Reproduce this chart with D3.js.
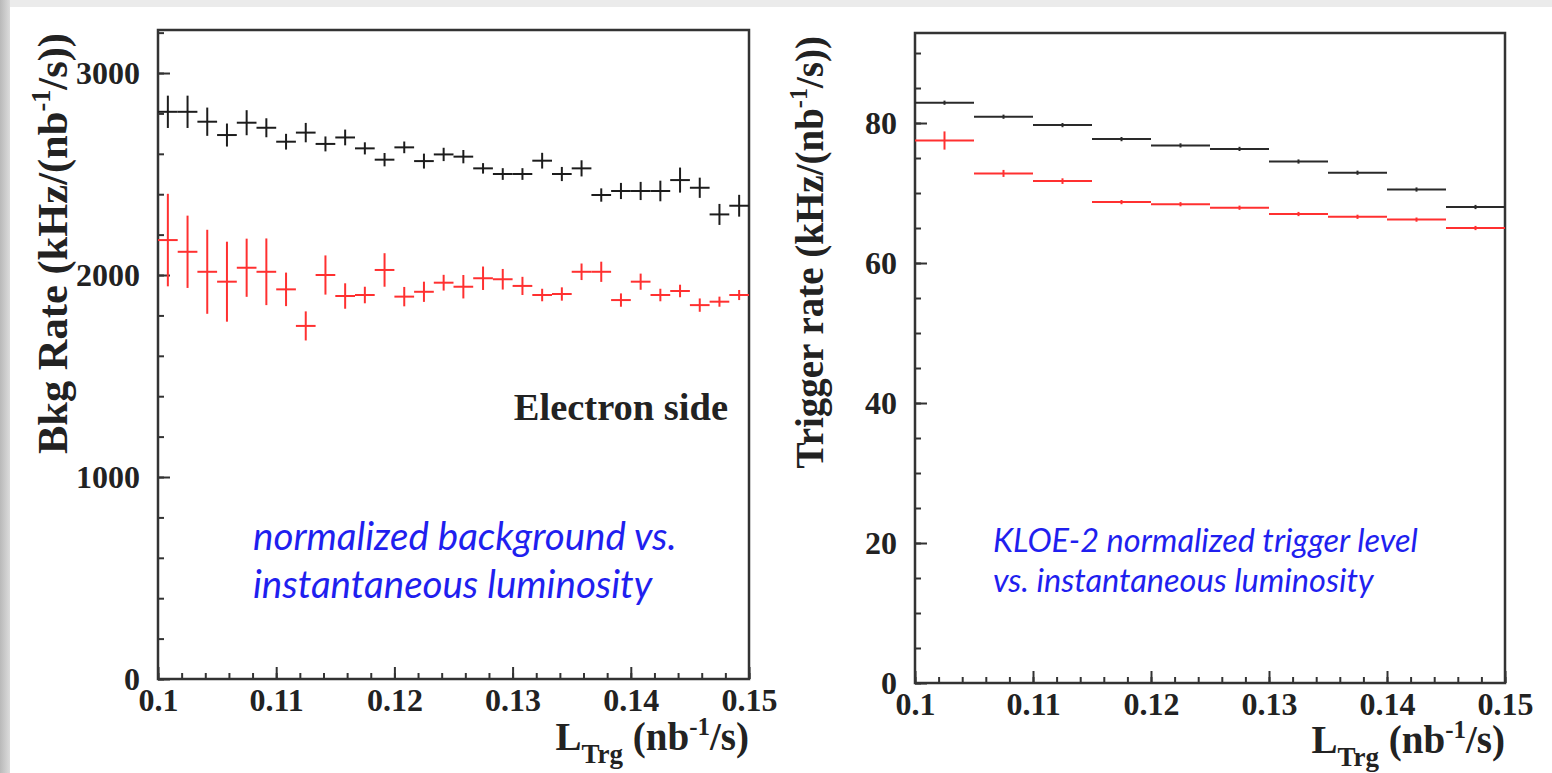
<!DOCTYPE html>
<html>
<head>
<meta charset="utf-8">
<script src="https://cdn.jsdelivr.net/npm/d3@7"></script>
<style>
  body { margin: 0; background: #fff; }
  svg { display: block; }
  .tick text { font-family: "Liberation Serif", serif; font-weight: bold; font-size: 32px; fill: #222; }
  .tick line { stroke: #333; stroke-width: 2; }
  .domain { display: none; }
  .title { font-family: "Liberation Serif", serif; font-weight: bold; fill: #222; }
  .note { font-family: Lato, "Open Sans", sans-serif; font-style: italic; fill: #1f1fef; }
</style>
</head>
<body>
<div id="chart"></div>
<script>
// left panel: background rate, 30 bins between 0.1 and 0.15
const bkgXmin = 0.1, bkgXmax = 0.15, bkgBins = 30;
const bkgBlack = [2808, 2808, 2759, 2693, 2754, 2729, 2660, 2705, 2649, 2681,
                  2627, 2571, 2632, 2564, 2597, 2586, 2528, 2500, 2500, 2566,
                  2500, 2528, 2396, 2416, 2416, 2416, 2470, 2432, 2300, 2343];
const bkgBlackErr = [80, 80, 70, 57, 62, 47, 39, 48, 37, 39,
                     30, 33, 29, 37, 33, 33, 26, 29, 29, 39,
                     35, 40, 33, 40, 45, 51, 62, 50, 52, 54];
const bkgRed = [2173, 2115, 2016, 1967, 2036, 2016, 1929, 1748, 2000, 1896,
                1901, 2025, 1893, 1917, 1962, 1942, 1984, 1979, 1946, 1901,
                1906, 2016, 2016, 1876, 1967, 1901, 1921, 1851, 1868, 1901];
const bkgRedErr = [229, 179, 208, 198, 144, 165, 83, 72, 97, 63,
                   41, 83, 48, 50, 39, 58, 58, 51, 45, 31,
                   33, 41, 50, 33, 40, 31, 31, 33, 25, 25];
const bkgYTicks = [0, 1000, 2000, 3000];

// right panel: trigger rate, 10 bins
const trgLow = [0.100, 0.105, 0.110, 0.115, 0.120, 0.125, 0.130, 0.135, 0.140, 0.145];
const trgBlack = [82.9, 80.9, 79.7, 77.7, 76.8, 76.3, 74.5, 72.9, 70.5, 68.0];
const trgBlackErr = [0.3, 0.3, 0.3, 0.3, 0.3, 0.3, 0.3, 0.3, 0.3, 0.3];
const trgRed = [77.5, 72.8, 71.7, 68.7, 68.4, 67.9, 67.0, 66.6, 66.2, 65.0];
const trgRedErr = [1.3, 0.5, 0.4, 0.3, 0.3, 0.3, 0.3, 0.3, 0.3, 0.3];
const trgYTicks = [0, 20, 40, 60, 80];

const xTicks = [0.1, 0.11, 0.12, 0.13, 0.14, 0.15];

const W = 1552, H = 773;
const svg = d3.select("#chart").append("svg").attr("width", W).attr("height", H);

// slide backdrop
const grad = svg.append("defs").append("linearGradient").attr("id", "edge");
grad.append("stop").attr("offset", "0%").attr("stop-color", "#b9b9b9");
grad.append("stop").attr("offset", "100%").attr("stop-color", "#dcdcdc");
svg.append("rect").attr("width", W).attr("height", 7).attr("fill", "#ebebeb");
svg.append("rect").attr("width", 10).attr("height", H).attr("fill", "url(#edge)");

function panel(opt) {
  const x = d3.scaleLinear().domain([0.1, 0.15]).range([opt.left, opt.right]);
  const y = d3.scaleLinear().domain([0, opt.ymax]).range([opt.bottom, opt.top]);
  const g = svg.append("g");

  // minor ticks
  g.append("g").attr("transform", `translate(${opt.left},0)`)
    .call(d3.axisLeft(y).tickValues(d3.range(0, opt.ymax, opt.yminor)).tickSize(-6).tickFormat(""));
  g.append("g").attr("transform", `translate(0,${opt.bottom})`)
    .call(d3.axisBottom(x).tickValues(d3.range(0, 26).map(i => 0.1 + i * 0.002)).tickSize(-6).tickFormat(""));
  // major ticks
  g.append("g").attr("transform", `translate(${opt.left},0)`)
    .call(d3.axisLeft(y).tickValues(opt.yticks).tickSize(-12).tickPadding(18).tickFormat(d3.format("d")));
  g.append("g").attr("transform", `translate(0,${opt.bottom})`)
    .call(d3.axisBottom(x).tickValues(xTicks).tickSize(-12).tickPadding(9).tickFormat(d => String(+d.toFixed(2))));

  g.append("rect")
    .attr("x", opt.left).attr("y", opt.top)
    .attr("width", opt.right - opt.left).attr("height", opt.bottom - opt.top)
    .attr("fill", "none").attr("stroke", "#333").attr("stroke-width", 2.5);

  opt.series.forEach(s => {
    const sg = g.append("g").attr("stroke", s.color).attr("stroke-width", s.width);
    s.values.forEach((v, i) => {
      const x0 = x(s.lo[i]), x1 = x(s.hi[i]), xc = (x0 + x1) / 2;
      sg.append("line").attr("x1", x0).attr("x2", x1).attr("y1", y(v)).attr("y2", y(v));
      sg.append("line").attr("x1", xc).attr("x2", xc)
        .attr("y1", y(v - s.err[i])).attr("y2", y(v + s.err[i]));
    });
  });

  // y title, rotated, aligned to top of frame
  const yt = svg.append("text").attr("class", "title")
    .attr("transform", `translate(${opt.ytitleX},${opt.top + 3}) rotate(-90)`)
    .attr("text-anchor", "end").style("font-size", opt.ytitleSize + "px");
  yt.append("tspan").text(opt.ytitle + " (kHz/(nb");
  yt.append("tspan").attr("dy", -opt.ytitleSize * 0.4).style("font-size", opt.ytitleSize * 0.62 + "px").text("-1");
  yt.append("tspan").attr("dy", opt.ytitleSize * 0.4).text("/s))");

  // x title, aligned to right end
  const xt = svg.append("text").attr("class", "title")
    .attr("x", opt.right).attr("y", opt.xtitleY)
    .attr("text-anchor", "end").style("font-size", "39px");
  xt.append("tspan").text("L");
  xt.append("tspan").attr("dy", 13).style("font-size", "27px").text("Trg");
  xt.append("tspan").attr("dy", -13).text(" (nb");
  xt.append("tspan").attr("dy", -15).style("font-size", "25px").text("-1");
  xt.append("tspan").attr("dy", 15).text("/s)");

  opt.notes.forEach((t, i) => {
    svg.append("text").attr("class", "note")
      .attr("x", opt.noteX).attr("y", opt.noteY + i * opt.noteGap)
      .style("font-size", opt.noteSize + "px").text(t);
  });
  return g;
}

const bw = (bkgXmax - bkgXmin) / bkgBins;
const bkgLo = d3.range(bkgBins).map(i => bkgXmin + i * bw);
const bkgHi = bkgLo.map(v => v + bw);
const trgHi = trgLow.map(v => v + 0.005);

panel({
  left: 158, right: 749, top: 30, bottom: 679,
  ymax: 3213, yminor: 200, yticks: bkgYTicks,
  ytitle: "Bkg Rate", ytitleX: 67, ytitleSize: 42.5, xtitleY: 750,
  notes: ["normalized background vs.", "instantaneous luminosity"],
  noteX: 253, noteY: 550, noteGap: 48, noteSize: 38.5,
  series: [
    { values: bkgBlack, err: bkgBlackErr, lo: bkgLo, hi: bkgHi, color: "#1c1c1c", width: 2 },
    { values: bkgRed, err: bkgRedErr, lo: bkgLo, hi: bkgHi, color: "#ff3030", width: 2 }
  ]
});

svg.append("text").attr("class", "title")
  .attr("x", 728).attr("y", 420).attr("text-anchor", "end")
  .style("font-size", "38.5px").text("Electron side");

panel({
  left: 915, right: 1505, top: 33, bottom: 683,
  ymax: 92.86, yminor: 5, yticks: trgYTicks,
  ytitle: "Trigger rate", ytitleX: 823, ytitleSize: 39, xtitleY: 753,
  notes: ["KLOE-2 normalized trigger level", "vs. instantaneous luminosity"],
  noteX: 993, noteY: 552, noteGap: 40, noteSize: 32.5,
  series: [
    { values: trgBlack, err: trgBlackErr, lo: trgLow, hi: trgHi, color: "#2a2a2a", width: 2 },
    { values: trgRed, err: trgRedErr, lo: trgLow, hi: trgHi, color: "#ff3030", width: 2 }
  ]
});
</script>
</body>
</html>
